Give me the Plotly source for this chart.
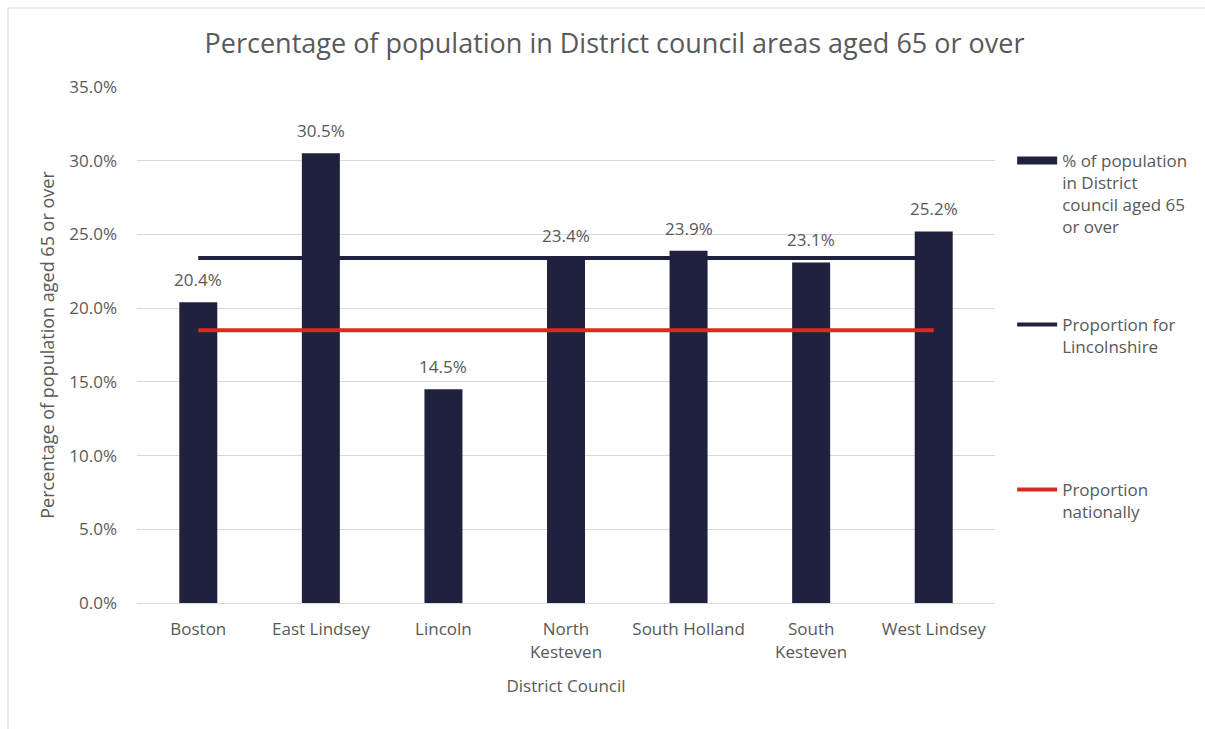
import plotly.graph_objects as go

categories = ["Boston", "East Lindsey", "Lincoln", "North<br>Kesteven", "South Holland", "South<br>Kesteven", "West Lindsey"]
district_pct = [20.4, 30.5, 14.5, 23.4, 23.9, 23.1, 25.2]
lincolnshire_pct = [23.4, 23.4, 23.4, 23.4, 23.4, 23.4, 23.4]
national_pct = [18.5, 18.5, 18.5, 18.5, 18.5, 18.5, 18.5]

BAR = "#20213f"
RED = "#dc2a20"
GREY = "#595959"
FONT = "Open Sans"
BAR_NAME = "% of population<br>in District<br>council aged 65<br>or over"

fig = go.Figure()
fig.add_trace(go.Bar(
    x=categories, y=district_pct,
    name=BAR_NAME, legendgroup="bars",
    marker=dict(color=BAR, line=dict(width=0)),
    showlegend=False,
))
# legend-only entry to mimic the wide flat bar swatch of the original
fig.add_trace(go.Scatter(
    x=[None], y=[None], mode="lines",
    name=BAR_NAME, legendgroup="bars",
    line=dict(color=BAR, width=8),
    legend="legend", showlegend=True, hoverinfo="skip",
))
fig.add_trace(go.Scatter(
    x=categories, y=lincolnshire_pct, mode="lines",
    name="Proportion for<br>Lincolnshire",
    line=dict(color=BAR, width=4),
    legend="legend2", showlegend=True,
))
fig.add_trace(go.Scatter(
    x=categories, y=national_pct, mode="lines",
    name="Proportion<br>nationally",
    line=dict(color=RED, width=4),
    legend="legend3", showlegend=True,
))

for c, v in zip(categories, district_pct):
    fig.add_annotation(x=c, y=v, text=f"{v:.1f}%", showarrow=False,
                       yanchor="bottom", yshift=9,
                       font=dict(family=FONT, size=17, color=GREY))

legend_common = dict(font=dict(family=FONT, size=17, color=GREY),
                     bgcolor="rgba(0,0,0,0)", xanchor="left", yanchor="top",
                     itemwidth=40, visible=True, valign="top")
fig.update_layout(
    width=1205, height=729,
    margin=dict(l=137, r=210, t=87, b=126),
    paper_bgcolor="white", plot_bgcolor="white",
    font=dict(family=FONT, color=GREY),
    showlegend=True,
    title=dict(text="Percentage of population in District council areas aged 65 or over",
               x=0.51, xref="container", xanchor="center",
               y=1 - 44 / 729, yref="container", yanchor="middle",
               font=dict(family=FONT, size=27, color=GREY)),
    bargap=0.69,
    legend=dict(x=1.02, y=(603 - 143) / 516, **legend_common),
    legend2=dict(x=1.02, y=(603 - 307) / 516, **legend_common),
    legend3=dict(x=1.02, y=(603 - 472) / 516, **legend_common),
    xaxis=dict(
        title=dict(text="District Council", font=dict(family=FONT, size=17, color=GREY), standoff=18),
        tickfont=dict(family=FONT, size=17, color=GREY),
        ticklabelstandoff=11,
        showline=True, linecolor="#d9d9d9", linewidth=1,
        ticks="", showgrid=False,
    ),
    yaxis=dict(
        title=dict(text="Percentage of population aged 65 or over",
                   font=dict(family=FONT, size=18, color=GREY), standoff=10),
        range=[0, 35], dtick=5, tickformat=".1f", ticksuffix="%",
        tickfont=dict(family=FONT, size=17, color=GREY),
        ticklabelstandoff=19,
        showgrid=True, gridcolor="#d9d9d9", gridwidth=1,
        zeroline=False, showline=False, ticks="",
    ),
    shapes=[dict(type="rect", xref="paper", yref="paper",
                 x0=(8 - 137) / 858, x1=1.4, y0=-0.4, y1=(603 - 8) / 516,
                 line=dict(color="#d9d9d9", width=1), fillcolor="rgba(0,0,0,0)",
                 layer="below")],
)

fig.write_html("out.html")
